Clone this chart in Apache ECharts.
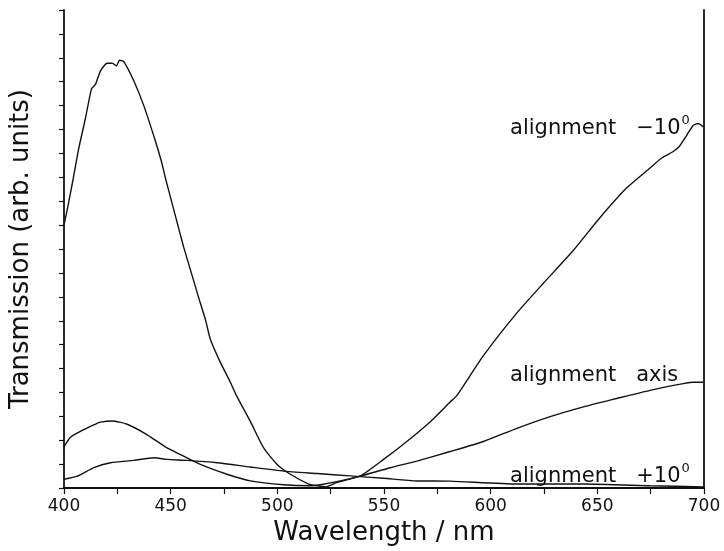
<!DOCTYPE html>
<html>
<head>
<meta charset="utf-8">
<script src="https://cdn.jsdelivr.net/npm/echarts@6/dist/echarts.min.js"></script>
<style>
  html, body { margin: 0; padding: 0; background: #fff; }
  #chart { width: 724px; height: 551px; }
</style>
</head>
<body>
<div id="chart"></div>
<script>
// Transmission spectra for three alignment angles (arbitrary units)
const wlMinus10 = [400, 402, 403.8, 406.9, 410, 412.9, 414.8, 417.1, 420.2, 422.6, 424.6, 426, 428, 432.7, 437.4, 442.9, 445.7, 447.6, 450.7, 454.6, 456.1, 459.3, 463.9, 466.3, 468.6, 473.3, 478, 480.8, 487.4, 493.6, 499.9, 506.1, 514.7, 518.6, 522.5, 528, 538.9, 549.8, 560.7, 571.7, 581, 584.2, 596.6, 612.3, 624.7, 638.8, 651.3, 663.8, 674.7, 680, 685.6, 688.5, 691.9, 695, 697.3, 699.7];
const trMinus10 = [11.0, 11.87, 12.7, 14.2, 15.45, 16.7, 16.9, 17.45, 17.77, 17.77, 17.66, 17.9, 17.84, 17.04, 16.0, 14.5, 13.65, 12.95, 11.9, 10.58, 10.08, 9.12, 7.74, 7.05, 6.23, 5.26, 4.43, 3.88, 2.78, 1.68, 0.99, 0.58, 0.17, 0.1, 0.05, 0.24, 0.51, 1.2, 1.95, 2.78, 3.6, 3.88, 5.54, 7.33, 8.57, 9.95, 11.32, 12.56, 13.39, 13.8, 14.08, 14.3, 14.76, 15.18, 15.25, 15.11];

const wlAxis = [400, 403, 408.5, 414.8, 417.1, 422.6, 429.6, 439, 448.3, 454.6, 463.9, 476.4, 487.4, 502.9, 515.5, 520.1, 529.5, 538.9, 552.9, 565.4, 581, 596.6, 612.3, 627.9, 643.5, 659.1, 674.7, 690.3, 695, 699.7];
const trAxis = [1.72, 2.13, 2.41, 2.68, 2.76, 2.81, 2.67, 2.23, 1.68, 1.4, 0.99, 0.58, 0.3, 0.14, 0.1, 0.14, 0.3, 0.5, 0.85, 1.13, 1.53, 1.95, 2.5, 2.99, 3.4, 3.75, 4.09, 4.37, 4.43, 4.43];

const wlPlus10 = [400, 406.2, 414, 421.8, 432.7, 442.1, 448.3, 457.7, 471.8, 487.4, 503, 518.6, 534.2, 549.8, 565.4, 581, 612.3, 643.5, 674.7, 699.7];
const trPlus10 = [0.37, 0.5, 0.86, 1.06, 1.16, 1.27, 1.2, 1.16, 1.06, 0.88, 0.71, 0.61, 0.51, 0.41, 0.3, 0.29, 0.17, 0.17, 0.1, 0.05];

// Curve annotations: text, anchor wavelength, anchor transmission
const curveLabels = [
  { main: 'alignment   \u221210', sup: '0', wl: 609.1, tr: 15.05 },
  { main: 'alignment   axis', sup: '', wl: 609.1, tr: 4.72 },
  { main: 'alignment   +10', sup: '0', wl: 609.1, tr: 0.5 }
];

const ink = '#111';
const font = 'DejaVu Sans';

function pairs(xs, ys) { return xs.map((x, i) => [x, ys[i]]); }

function lineSeries(name, xs, ys) {
  return {
    name, type: 'line', data: pairs(xs, ys),
    showSymbol: false, smooth: 0.2,
    lineStyle: { color: ink, width: 1.4 },
    z: 3
  };
}

const labelSeries = {
  type: 'scatter',
  symbolSize: 0,
  silent: true,
  itemStyle: { opacity: 1, color: ink },
  data: curveLabels.map(l => ({ value: [l.wl, l.tr], main: l.main, sup: l.sup })),
  label: {
    show: true,
    position: 'right',
    distance: 0,
    color: ink,
    opacity: 1,
    formatter: p => '{m|' + p.data.main + '}' + (p.data.sup ? '{s|' + p.data.sup + '}' : ''),
    rich: {
      m: { fontFamily: font, fontSize: 21, color: ink },
      s: { fontFamily: font, fontSize: 13, color: ink, padding: [0, 0, 15, 1] }
    }
  },
  z: 5
};

const chart = echarts.init(document.getElementById('chart'), null, { renderer: 'canvas' });
chart.setOption({
  animation: false,
  backgroundColor: '#fff',
  grid: { left: 63.5, right: 20, top: 10, bottom: 57, containLabel: false, show: false },
  xAxis: [{
    type: 'value', min: 400, max: 700, interval: 50,
    name: 'Wavelength / nm', nameLocation: 'middle', nameGap: 24,
    nameTextStyle: { fontFamily: font, fontSize: 26, color: ink },
    axisLine: { onZero: false, lineStyle: { color: ink, width: 1.8 } },
    axisTick: { inside: false, length: 6, lineStyle: { color: ink, width: 1.2 } },
    minorTick: { show: true, splitNumber: 2, length: 6, lineStyle: { color: ink, width: 1.2 } },
    axisLabel: { fontFamily: font, fontSize: 17, color: ink, margin: 10 },
    splitLine: { show: false }
  }, {
    type: 'value', position: 'top', min: 400, max: 700,
    axisLine: { show: true, lineStyle: { color: ink, width: 2 } },
    axisTick: { show: false }, axisLabel: { show: false }, splitLine: { show: false }
  }],
  yAxis: [{
    type: 'value', min: 0, max: 20, interval: 1,
    name: 'Transmission (arb. units)', nameLocation: 'middle', nameGap: 30,
    nameTextStyle: { fontFamily: font, fontSize: 26, color: ink },
    axisLine: { show: true, onZero: false, lineStyle: { color: ink, width: 1.8 } },
    axisTick: { show: true, inside: false, length: 5, lineStyle: { color: ink, width: 1.2 } },
    axisLabel: { show: false },
    splitLine: { show: false }
  }, {
    type: 'value', position: 'right', min: 0, max: 20,
    axisLine: { show: true, lineStyle: { color: ink, width: 1.8 } },
    axisTick: { show: false }, axisLabel: { show: false }, splitLine: { show: false }
  }],
  series: [
    lineSeries('alignment -10', wlMinus10, trMinus10),
    lineSeries('alignment axis', wlAxis, trAxis),
    lineSeries('alignment +10', wlPlus10, trPlus10),
    labelSeries
  ]
});
</script>
</body>
</html>
